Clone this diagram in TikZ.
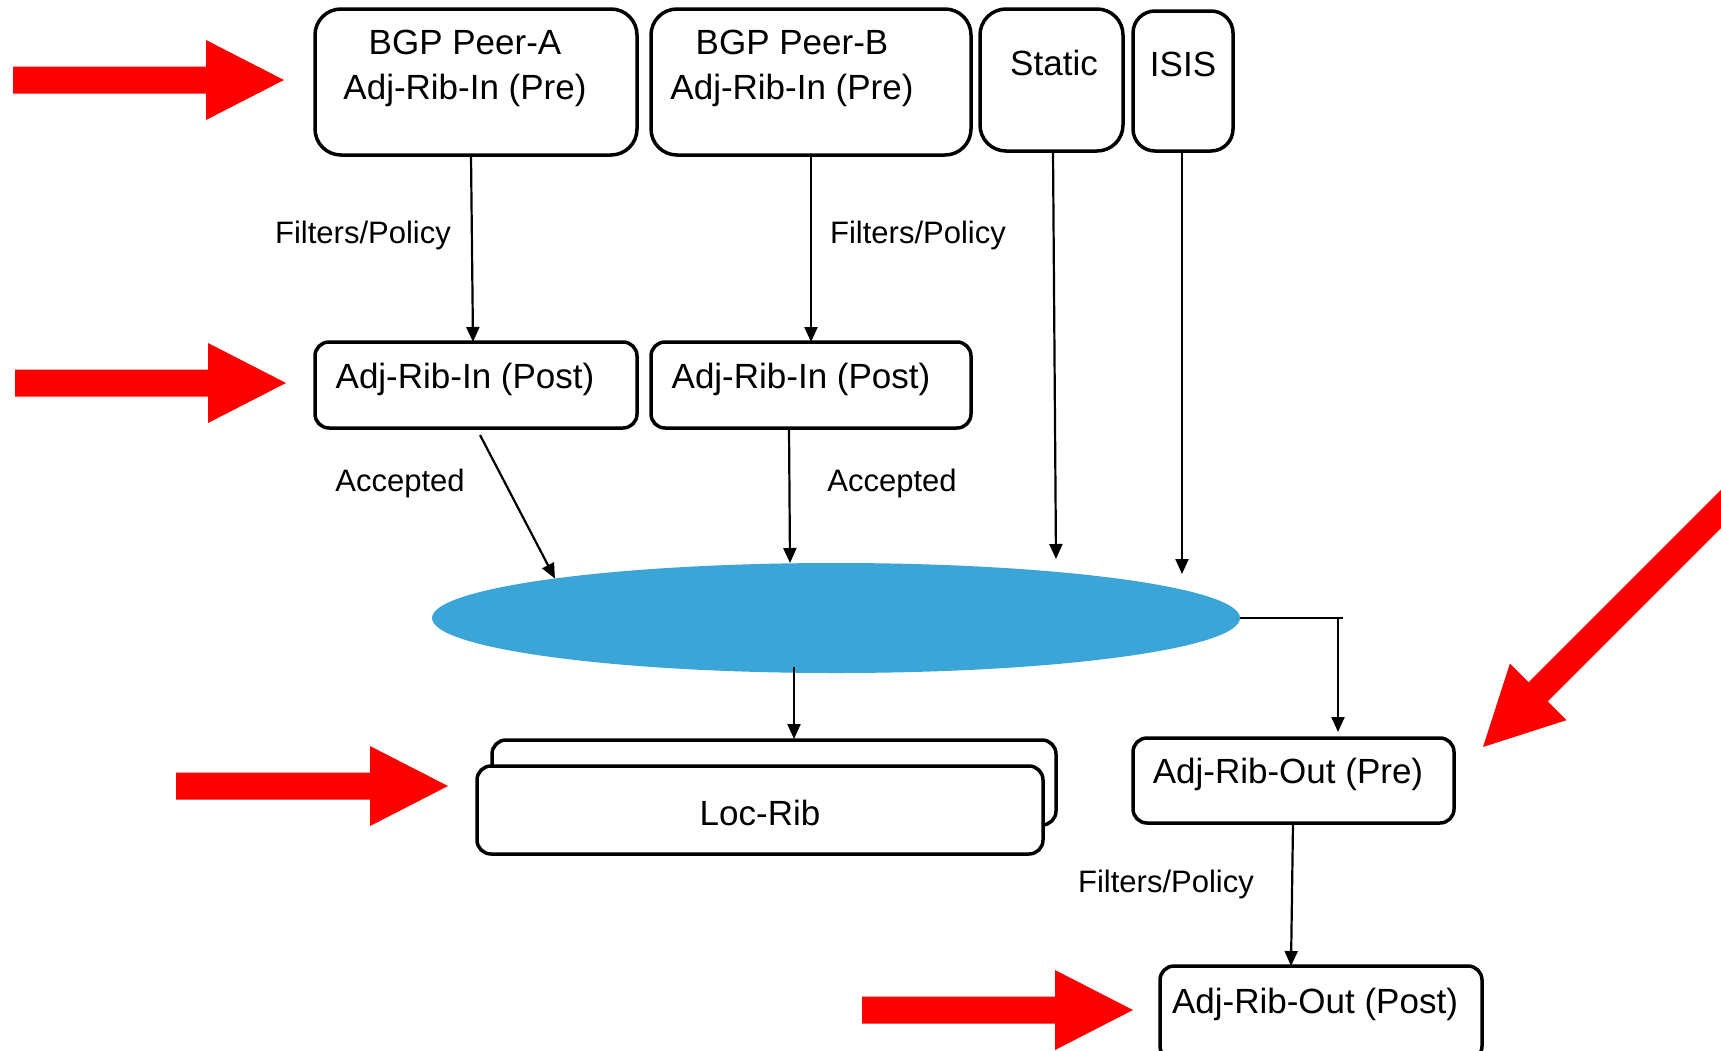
\documentclass[tikz,border=0pt]{standalone}
\usepackage{fontspec}
\setmainfont{Liberation Sans}
\usetikzlibrary{arrows.meta,shapes.geometric,calc}
\definecolor{ribblue}{RGB}{58,165,214}
\definecolor{bigred}{RGB}{255,0,0}
\begin{document}
\begin{tikzpicture}[x=1pt,y=-1pt,
  box/.style={draw, line width=3.5pt, rounded corners=#1, inner sep=0pt, outer sep=0pt, fill=white},
  box/.default=14pt,
  bigtxt/.style={inner sep=0pt, font=\fontsize{35}{40}\selectfont},
  lbltxt/.style={inner sep=0pt, font=\fontsize{31}{36}\selectfont},
  conn/.style={line width=2.2pt, -{Triangle[length=15pt,width=13pt]}},
  pics/bigarrow/.style={code={
    \fill[bigred] (-#1,-13.5) -- (-78,-13.5) -- (-78,-40) -- (0,0) -- (-78,40) -- (-78,13.5) -- (-#1,13.5) -- cycle;
  }}
]
\useasboundingbox (0,0) rectangle (1721,1050);
\begin{scope}
\clip (0,0) rectangle (1721,1050);

% top boxes
\node[box=26pt, minimum width=322pt, minimum height=146pt] (pA) at (476,82) {};
\node[box=26pt, minimum width=320pt, minimum height=146pt] (pB) at (811,82) {};
\node[box=26pt, minimum width=143pt, minimum height=142pt] (st) at (1051.5,80) {};
\node[box=22pt, minimum width=100pt, minimum height=140pt] (is) at (1183,81) {};

\node[bigtxt] (tA1) at (465,42) {BGP Peer-A};
\node[bigtxt] (tA2) at (465,90) {Adj-Rib-In (Pre)};
\node[bigtxt] (tB1) at (792,42) {BGP Peer-B};
\node[bigtxt] (tB2) at (792,90) {Adj-Rib-In (Pre)};
\node[bigtxt] (tSt) at (1054,63) {Static};
\node[bigtxt] (tIs) at (1183,64) {ISIS};

% post boxes
\node[box, minimum width=322pt, minimum height=86pt] (qA) at (476,385) {};
\node[box, minimum width=320pt, minimum height=86pt] (qB) at (811,385) {};
\node[bigtxt] (tqA) at (465,379) {Adj-Rib-In (Post)};
\node[bigtxt] (tqB) at (801,379) {Adj-Rib-In (Post)};

% ellipse
\node[ellipse, fill=ribblue, minimum width=808pt, minimum height=110pt, inner sep=0pt, outer sep=0pt] (el) at (836,618) {};

% loc-rib
\node[box, minimum width=564pt, minimum height=85pt] (locB) at (774,782.5) {};
\node[box, minimum width=566pt, minimum height=88pt] (locF) at (760,810) {};
\node[bigtxt] (tLoc) at (760,813) {Loc-Rib};

% adj-rib-out
\node[box, minimum width=321pt, minimum height=85pt] (oPre) at (1293.5,780.5) {};
\node[bigtxt] (tOPre) at (1288,774) {Adj-Rib-Out (Pre)};
\node[box, minimum width=322pt, minimum height=94pt] (oPost) at (1321,1013) {};
\node[bigtxt] (tOPost) at (1315,1004) {Adj-Rib-Out (Post)};

% labels
\node[lbltxt] (lfA) at (363,235) {Filters/Policy};
\node[lbltxt] (lfB) at (918,235) {Filters/Policy};
\node[lbltxt] (laA) at (400,483) {Accepted};
\node[lbltxt] (laB) at (892,483) {Accepted};
\node[lbltxt] (lfC) at (1166,884) {Filters/Policy};

% connectors
\draw[conn] ([xshift=-5pt]pA.south) -- ([xshift=-3pt]qA.north);
\draw[conn] (pB.south) -- (qB.north);
\draw[conn] ([shift={(4pt,-7pt)}]qA.south) -- (el.172.2);
\draw[conn] ([xshift=-22pt]qB.south) -- ([xshift=-46pt]el.north);
\coordinate (stEnd) at (1056,559);
\coordinate (isEnd) at (1182,574);
\draw[conn] ([xshift=1.5pt]st.south) -- (stEnd);
\draw[conn] ([xshift=-1pt]is.south) -- (isEnd);
\draw[conn] ([shift={(-42pt,6pt)}]el.south) -- ([xshift=20pt,yshift=1pt]locB.north);
\draw[line width=2.2pt] (el.east) -- ++(103,0);
\draw[conn] (el.east) -| ([xshift=44.5pt,yshift=6pt]oPre.north);
\draw[conn] ([xshift=-0.5pt]oPre.south) -- ([xshift=-30pt]oPost.north);

% red arrows
\pic (ra1) at (284,80) {bigarrow=271};
\pic (ra2) at (286,383) {bigarrow=271};
\pic (ra3) at (448,786) {bigarrow=272};
\pic (ra4) at (1133,1010) {bigarrow=271};
\pic[rotate=225] (ra5) at (1483,747) {bigarrow=420};
\end{scope}
\end{tikzpicture}
\end{document}
